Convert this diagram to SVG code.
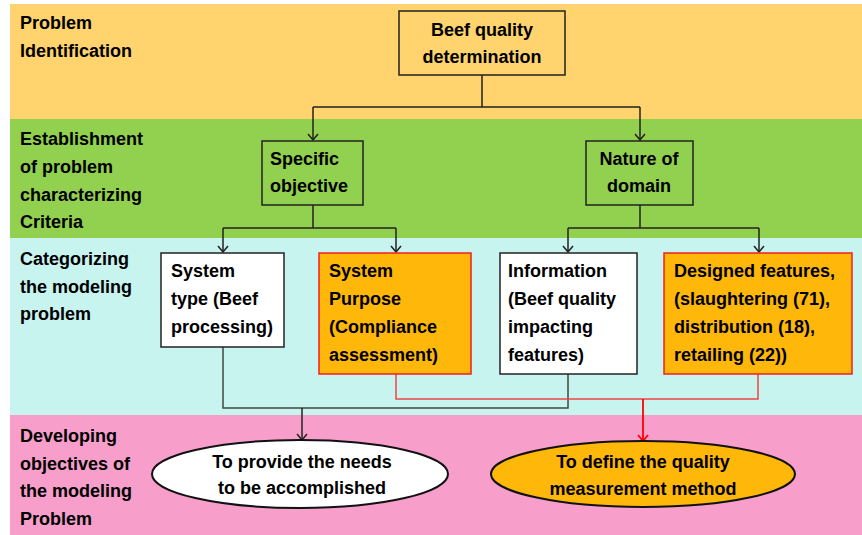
<svg xmlns="http://www.w3.org/2000/svg" width="862" height="535" viewBox="0 0 862 535">
  <defs>
    <style>
      text { font-family: "Liberation Sans", Arial, sans-serif; font-weight: bold; font-size: 18px; fill: #000; }
      .mid { text-anchor: middle; }
      .box { stroke: #222; stroke-width: 1.5; }
      .green { fill: #92D050; }
      .yellow { fill: #FFD36E; }
      .white { fill: #FFFFFF; }
      .orange { fill: #FFB70A; stroke: #F02020; stroke-width: 1.5; }
      .wire { fill: none; stroke: #222; stroke-width: 1.5; }
      .gray { fill: none; stroke: #444; stroke-width: 1.5; }
      .red { fill: none; stroke: #EE4444; stroke-width: 1.5; }
      .redarrow { fill: none; stroke: #FF0000; stroke-width: 1.8; }
    </style>
    <marker id="arr" viewBox="0 0 12 12" refX="11" refY="6" markerWidth="12" markerHeight="12" markerUnits="userSpaceOnUse" orient="auto">
      <path d="M5,1 L11,6 L5,11" fill="none" stroke="#222" stroke-width="1.5"/>
    </marker>
    <marker id="arrRed" viewBox="0 0 12 12" refX="11" refY="6" markerWidth="12" markerHeight="12" markerUnits="userSpaceOnUse" orient="auto">
      <path d="M5,1 L11,6 L5,11" fill="none" stroke="#FF0000" stroke-width="1.8"/>
    </marker>
  </defs>

  <!-- stage bands -->
  <g id="bands">
    <rect x="0" y="0" width="862" height="535" fill="#FFFFFF"/>
    <rect x="10" y="4" width="852" height="115" fill="#FFD36E"/>
    <rect x="10" y="119" width="852" height="119" fill="#92D050"/>
    <rect x="10" y="238" width="852" height="177" fill="#C8F4F0"/>
    <rect x="10" y="415" width="852" height="120" fill="#F79FCA"/>
  </g>

  <!-- stage labels -->
  <g id="stage-labels">
    <text x="20" y="29">Problem</text>
    <text x="20" y="57">Identification</text>
    <text x="20" y="145">Establishment</text>
    <text x="20" y="173">of problem</text>
    <text x="20" y="201">characterizing</text>
    <text x="20" y="228">Criteria</text>
    <text x="20" y="265">Categorizing</text>
    <text x="20" y="293">the modeling</text>
    <text x="20" y="320">problem</text>
    <text x="20" y="442">Developing</text>
    <text x="20" y="470">objectives of</text>
    <text x="20" y="497">the modeling</text>
    <text x="20" y="525">Problem</text>
  </g>

  <!-- connectors -->
  <g id="connectors">
    <path class="wire" d="M482,75 V107 M313,107 H640"/>
    <path class="wire" d="M313,107 V140" marker-end="url(#arr)"/>
    <path class="wire" d="M640,107 V140" marker-end="url(#arr)"/>
    <path class="wire" d="M313,205 V228 M223,228 H396"/>
    <path class="wire" d="M223,228 V252" marker-end="url(#arr)"/>
    <path class="wire" d="M396,228 V252" marker-end="url(#arr)"/>
    <path class="wire" d="M640,205 V228 M568,228 H759"/>
    <path class="wire" d="M568,228 V252" marker-end="url(#arr)"/>
    <path class="wire" d="M759,228 V252" marker-end="url(#arr)"/>
    <path class="gray" d="M223,347 V408 H568 V374"/>
    <path class="wire" d="M302,408 V440" marker-end="url(#arr)"/>
    <path class="red" d="M396,374 V399 H758 V374"/>
    <path class="redarrow" d="M643,399 V441" marker-end="url(#arrRed)"/>
  </g>

  <g id="beef-quality">
    <rect class="box yellow" x="399" y="11" width="166" height="64"/>
    <text class="mid" x="482" y="36">Beef quality</text>
    <text class="mid" x="482" y="63">determination</text>
  </g>

  <g id="specific-objective">
    <rect class="box green" x="262" y="141" width="101" height="64"/>
    <text x="270" y="165">Specific</text>
    <text x="270" y="192">objective</text>
  </g>

  <g id="nature-of-domain">
    <rect class="box green" x="586" y="141" width="107" height="64"/>
    <text class="mid" x="639" y="165">Nature of</text>
    <text class="mid" x="639" y="192">domain</text>
  </g>

  <g id="system-type">
    <rect class="box white" x="161" y="253" width="123" height="94"/>
    <text x="171" y="277">System</text>
    <text x="171" y="305">type (Beef</text>
    <text x="171" y="333">processing)</text>
  </g>

  <g id="system-purpose">
    <rect class="orange" x="319" y="253" width="152" height="121"/>
    <text x="329" y="277">System</text>
    <text x="329" y="305">Purpose</text>
    <text x="329" y="333">(Compliance</text>
    <text x="329" y="361">assessment)</text>
  </g>

  <g id="information">
    <rect class="box white" x="500" y="253" width="137" height="121"/>
    <text x="508" y="277">Information</text>
    <text x="508" y="305">(Beef quality</text>
    <text x="508" y="333">impacting</text>
    <text x="508" y="361">features)</text>
  </g>

  <g id="designed-features">
    <rect class="orange" x="664" y="253" width="188" height="121"/>
    <text x="674" y="277">Designed features,</text>
    <text x="674" y="305">(slaughtering (71),</text>
    <text x="674" y="333">distribution (18),</text>
    <text x="674" y="361">retailing (22))</text>
  </g>

  <g id="provide-needs">
    <ellipse cx="300" cy="474" rx="148" ry="34" fill="#FFFFFF" stroke="#111" stroke-width="2"/>
    <text class="mid" x="302" y="468">To provide the needs</text>
    <text class="mid" x="302" y="494">to be accomplished</text>
  </g>

  <g id="quality-method">
    <ellipse cx="643" cy="474" rx="152" ry="33" fill="#FFB70A" stroke="#111" stroke-width="2"/>
    <text class="mid" x="643" y="468">To define the quality</text>
    <text class="mid" x="643" y="495">measurement method</text>
  </g>
</svg>
